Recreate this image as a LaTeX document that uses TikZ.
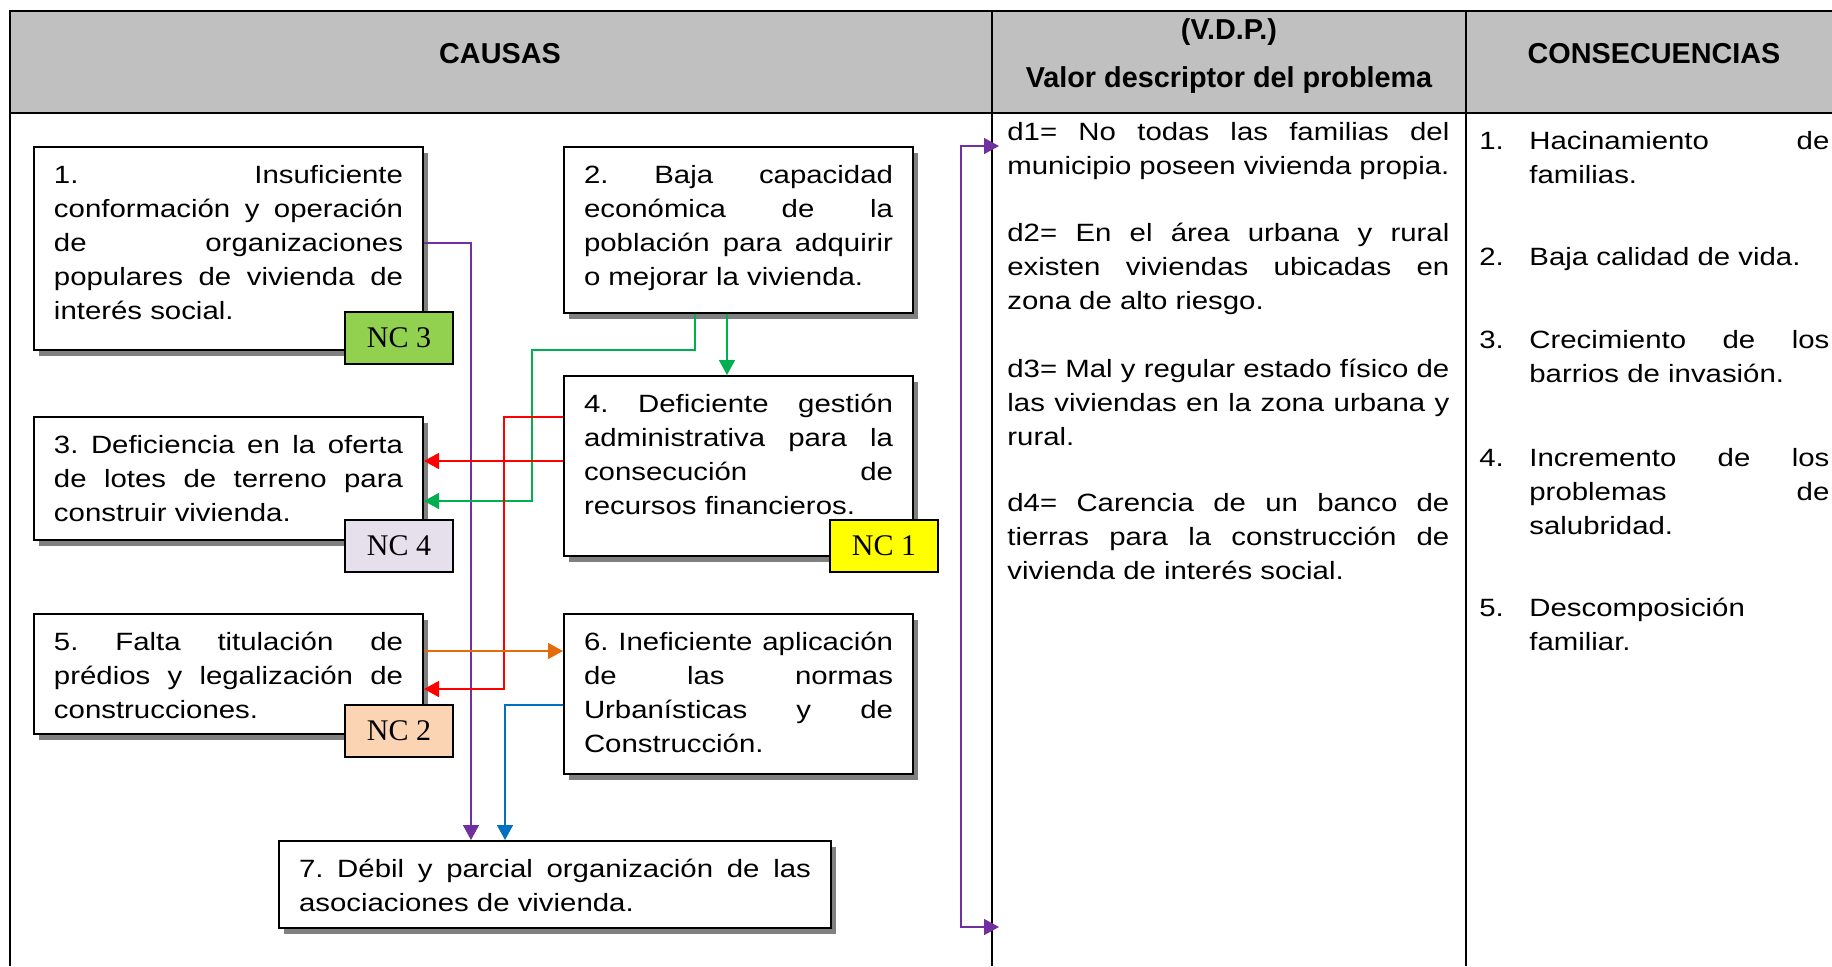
\documentclass[tikz,border=0pt]{standalone}
\usepackage{fontspec}
\setmainfont{Liberation Sans}
\newfontfamily\BodyFont{Liberation Sans}[FakeStretch=1.175]
\newfontfamily\NcFont{Liberation Serif}
\usetikzlibrary{arrows.meta,shadows}
\definecolor{HeadGray}{HTML}{C0C0C0}
\definecolor{NcGreen}{HTML}{92D050}
\definecolor{NcYellow}{HTML}{FFFF00}
\definecolor{NcLilac}{HTML}{E5E0EC}
\definecolor{NcPeach}{HTML}{FBD4B4}
\definecolor{LinkPurple}{HTML}{7030A0}
\definecolor{LinkGreen}{HTML}{00B050}
\definecolor{LinkRed}{HTML}{FF0000}
\definecolor{LinkOrange}{HTML}{E36C09}
\definecolor{LinkBlue}{HTML}{0070C0}
\tolerance=10000 \hbadness=10000 \hyphenpenalty=10000 \frenchspacing
\begin{document}
\begin{tikzpicture}[x=0.5pt,y=-0.5pt,
    causa/.style={draw,line width=1pt,fill=white,anchor=north west,
      inner xsep=10pt,inner ysep=9pt,text height=9pt,align=justify,font=\BodyText,
      drop shadow={shadow xshift=2.5pt,shadow yshift=-3pt,fill=black!50,opacity=1}},
    nc/.style={draw,line width=1pt,minimum width=54pt,minimum height=26pt,inner sep=0pt,font=\NcText},
    texto/.style={anchor=base west,inner sep=0pt,align=justify,font=\BodyText},
    head/.style={inner sep=0pt,font=\HeadText},
    link/.style={line width=0.75pt,-{Triangle[length=7.5pt,width=8pt]}}]
			\def\BodyText{\BodyFont\fontsize{12.5pt}{17pt}\selectfont}
			\def\HeadText{\bfseries\fontsize{14.4pt}{17pt}\selectfont}
			\def\NcText{\NcFont\fontsize{15pt}{17pt}\selectfont}
			\def\ConItem#1#2{\hangindent=25pt\hangafter=1\makebox[25pt][l]{#1}#2\par}
			\def\Tip{Triangle[length=7.5pt,width=8pt]}
				\useasboundingbox (0,0) rectangle (1832,966);
				\fill[HeadGray] (10,11) rectangle (1832,113);
				\draw[line width=0.6pt] (10,966) -- (10,11) -- (1832,11);
				\draw[line width=0.6pt] (10,113) -- (1832,113);
				\foreach \ColX in {992,1466}
					\draw[line width=0.6pt] (\ColX,11) -- (\ColX,966);

				\node[head] (causas) at (500,54) {CAUSAS};
				\node[head] (vdp) at (1229,32) {(V.D.P.)};
				\node[head] (vdpname) at (1229,80) {Valor descriptor del problema};
				\node[head] (conseq) at (1654,54) {CONSECUENCIAS};

				\node[causa,text width=174.5pt,text depth=74.5pt] (c1) at (33,146)
					{1. Insuficiente\linebreak conformación y operación\linebreak de organizaciones\linebreak populares de vivienda de\linebreak interés social.};
				\node[causa,text width=154.5pt,text depth=56pt] (c2) at (563,146)
					{2. Baja capacidad\linebreak económica de la\linebreak población para adquirir\linebreak o mejorar la vivienda.};
				\node[causa,text width=174.5pt,text depth=34.5pt] (c3) at (33,416)
					{3. Deficiencia en la oferta\linebreak de lotes de terreno para\linebreak construir vivienda.};
				\node[causa,text width=154.5pt,text depth=63pt] (c4) at (563,375)
					{4. Deficiente gestión\linebreak administrativa para la\linebreak consecución de\linebreak recursos financieros.};
				\node[causa,text width=174.5pt,text depth=33pt] (c5) at (33,613)
					{5. Falta titulación de\linebreak prédios y legalización de\linebreak construcciones.};
				\node[causa,text width=154.5pt,text depth=53pt] (c6) at (563,613)
					{6. Ineficiente aplicación\linebreak de las normas\linebreak Urbanísticas y de\linebreak Construcción.};
				\node[causa,text width=256pt,text depth=16.5pt] (c7) at (278,840)
					{7. Débil y parcial organización de las\linebreak asociaciones de vivienda.};

				\node[nc,fill=NcGreen] (nc3) at (399,338) {NC 3};
				\node[nc,fill=NcLilac] (nc4) at (399,546) {NC 4};
				\node[nc,fill=NcPeach] (nc2) at (399,730.5) {NC 2};
				\node[nc,fill=NcYellow] (nc1) at (884,546) {NC 1};

				\draw[link,LinkPurple] ([yshift=2.75pt]c1.east) -| ([xshift=-42pt]c7.north);
				\draw[link,LinkGreen] ([xshift=-21.75pt]c2.south) -- ++(0,36) -- ++(-163,0) |- ([yshift=-11.25pt]c3.east);
				\draw[link,LinkGreen] ([xshift=-5.75pt]c2.south) -- ([xshift=-5.75pt]c4.north);
				\draw[link,LinkRed] ([yshift=24.5pt]c4.west) -- ++(-59,0) |- ([yshift=-7.5pt]c5.east);
				\draw[link,LinkRed] ([yshift=2.5pt]c4.west) -- ([yshift=8.75pt]c3.east);
				\draw[link,LinkOrange] ([yshift=11.5pt]c5.east) -- ([yshift=21.5pt]c6.west);
				\draw[link,LinkBlue] ([yshift=-5.5pt]c6.west) -| ([xshift=-25pt]c7.north);

				\coordinate (vdpTop) at (999,146);
				\coordinate (vdpBot) at (999,927);
				\draw[LinkPurple,line width=0.75pt,{\Tip}-{\Tip}] (vdpTop) -- ++(-38,0) |- (vdpBot);

				\node[texto,text width=221pt] (d1) at (1007,140)
					{d1= No todas las familias del\linebreak municipio poseen vivienda propia.};
				\node[texto,text width=221pt] (d2) at (1007,241)
					{d2= En el área urbana y rural\linebreak existen viviendas ubicadas en\linebreak zona de alto riesgo.};
				\node[texto,text width=221pt] (d3) at (1007,377)
					{d3= Mal y regular estado físico de\linebreak las viviendas en la zona urbana y\linebreak rural.};
				\node[texto,text width=221pt] (d4) at (1007,511)
					{d4= Carencia de un banco de\linebreak tierras para la construcción de\linebreak vivienda de interés social.};

				\node[texto,text width=175pt] (k1) at (1479,149) {\ConItem{1.}{Hacinamiento de\linebreak familias.}};
				\node[texto,text width=175pt] (k2) at (1479,265) {\ConItem{2.}{Baja calidad de vida.}};
				\node[texto,text width=175pt] (k3) at (1479,348) {\ConItem{3.}{Crecimiento de los\linebreak barrios de invasión.}};
				\node[texto,text width=175pt] (k4) at (1479,466) {\ConItem{4.}{Incremento de los\linebreak problemas de\linebreak salubridad.}};
				\node[texto,text width=175pt] (k5) at (1479,616) {\ConItem{5.}{Descomposición\linebreak familiar.}};
		\end{tikzpicture}
\end{document}
